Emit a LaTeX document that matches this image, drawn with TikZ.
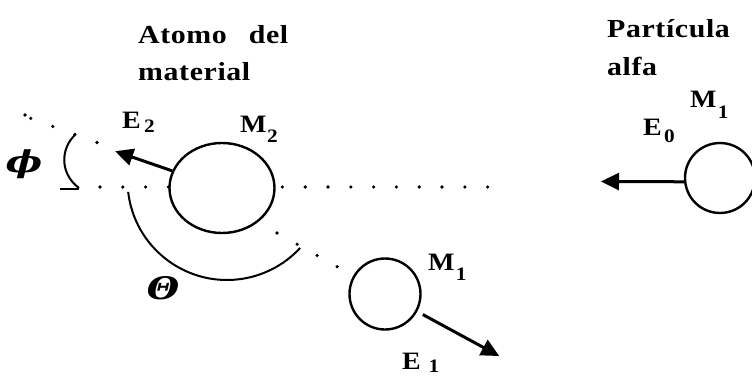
\documentclass[tikz,border=0pt]{standalone}
\usepackage{fontspec}
\setmainfont{Liberation Serif}
\newfontfamily\grk{DejaVu Serif}
\usetikzlibrary{arrows.meta,shapes.geometric,calc}
\newcommand\sx[1]{\scalebox{1.15}[1]{#1}}
\newcommand\bodyfont{\fontsize{26}{26}\selectfont\bfseries\addfontfeatures{LetterSpace=2}}
\newcommand\symlab[4]{\scalebox{1.12}[1]{\fontsize{25}{25}\selectfont\bfseries #1\hspace{#3}\raisebox{-#4}{\fontsize{19}{19}\selectfont #2}}}
\begin{document}
\begin{tikzpicture}[x=1pt,y=1pt,
  ball/.style={draw, line width=2.4pt, fill=white, inner sep=0pt},
  dots/.style={line width=3.6pt, line cap=round, dash pattern=on 0pt off 22.8pt},
  vec/.style={line width=3pt, -{Triangle[length=18pt,width=17pt]}},
  anglearc/.style={line width=2pt},
  txt/.style={inner sep=0pt, anchor=base west}]
\useasboundingbox (0,0) rectangle (752,376);
% horizontal axis
\coordinate (axL) at (100,189);
\coordinate (axR) at (490,189);
\draw[dots] (axL) -- (axR);
\coordinate (dashL) at (60,187);
\coordinate (dashR) at (79,187);
\draw[line width=2.5pt] (dashL) -- (dashR);
% bodies
\node[ball, ellipse, minimum width=105pt, minimum height=90pt] (M2) at (222,188) {};
\node[ball, circle, minimum size=71pt] (B1) at (385,82) {};
\node[ball, circle, minimum size=70pt] (A1) at (720,198) {};
% E2 direction
\coordinate (e2a) at ($(M2.center)+(160:133)$);
\coordinate (e2b) at ($(M2.center)+(160:205)$);
\draw[dots, dash pattern=on 0pt off 23.5pt] (e2a) -- (e2b);
\coordinate (e2c) at (25,261);
\fill (e2c) circle (1.8pt);
\coordinate (e2tip) at ($(M2.center)+(161:113)$);
\draw[vec] (M2.161) -- (e2tip);
% lower dotted line
\coordinate (d1) at (277,143);
\draw[dots, dash pattern=on 0pt off 23pt] (d1) -- (B1.150);
% angle arcs
\draw[anglearc] (227,195.5) ++(186.6:99.5) arc[start angle=186.6, end angle=317.3, radius=99.5];
\draw[anglearc] (79,188) .. controls (59,203) and (61,228) .. (75,241);
% E0 and E1 arrows
\coordinate (e0tip) at (601,194.5);
\draw[vec] (A1.186) -- (e0tip);
\coordinate (e1s) at ($(B1.center)+(-28.5:43)$);
\coordinate (e1t) at ($(B1.center)+(-28.5:130)$);
\draw[vec] (e1s) -- (e1t);
% texts
\node[txt] (t1) at (138,333) {\sx{\bodyfont Atomo\hspace{12pt} del}};
\node[txt] (t2) at (138,296) {\sx{\bodyfont material}};
\node[txt] (t3) at (607,338) {\sx{\bodyfont Partícula}};
\node[txt] (t4) at (607,301) {\sx{\bodyfont alfa}};
\node[txt] (lE2) at (122,248) {\symlab{E}{2}{3pt}{4pt}};
\node[txt] (lM2) at (240,244) {\symlab{M}{2}{0.5pt}{10pt}};
\node[txt] (lM1a) at (690,269) {\symlab{M}{1}{1pt}{11pt}};
\node[txt] (lE0) at (643,241) {\symlab{E}{0}{2pt}{7pt}};
\node[txt] (lM1b) at (428,106) {\symlab{M}{1}{1pt}{10pt}};
\node[txt] (lE1) at (402,7) {\symlab{E}{1}{7pt}{3pt}};
\node[inner sep=0pt] (phi) at (24,212) {\scalebox{1.3}[1]{\grk\fontsize{30}{30}\selectfont\bfseries\itshape\symbol{"03D5}}};
\node[inner sep=0pt] (theta) at (163,88) {\scalebox{1.2}[1]{\grk\fontsize{31}{31}\selectfont\bfseries\itshape\symbol{"0398}}};
\end{tikzpicture}
\end{document}
